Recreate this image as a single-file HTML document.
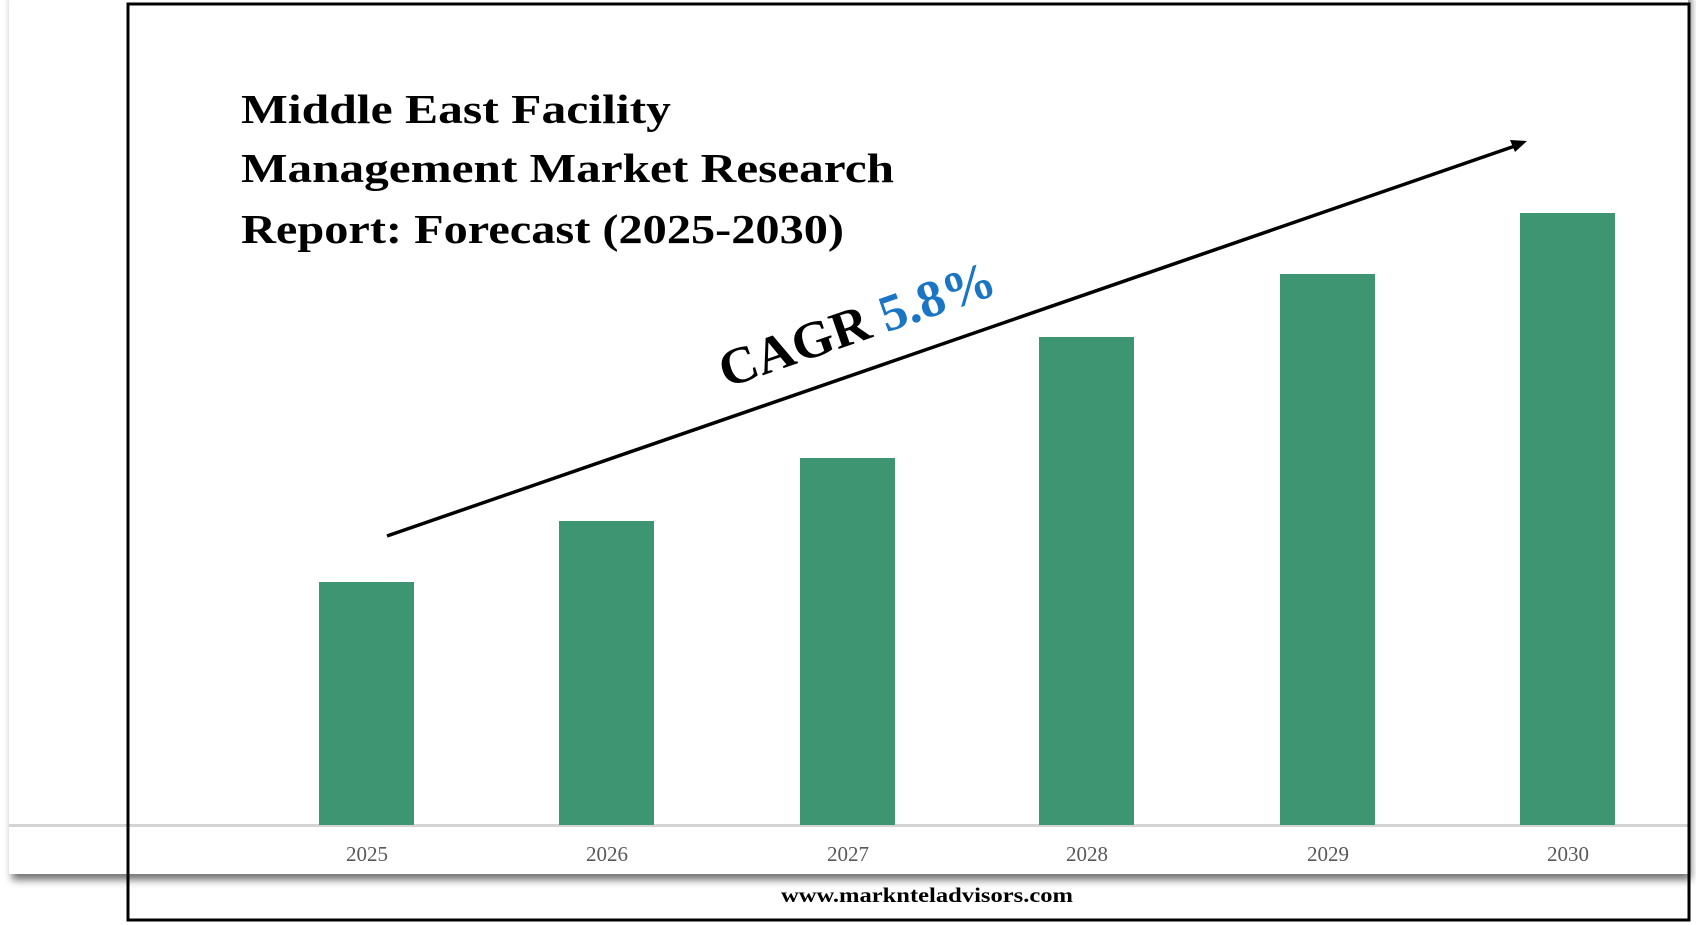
<!DOCTYPE html>
<html><head><style>
html,body{margin:0;padding:0;background:#fff;}
svg{display:block;}
</style></head><body>
<svg width="1696" height="925" viewBox="0 0 1696 925" xmlns="http://www.w3.org/2000/svg">
<defs>
<filter id="sh" x="-5%" y="-5%" width="110%" height="115%">
<feDropShadow dx="3" dy="6" stdDeviation="4" flood-color="#000" flood-opacity="0.55"/>
</filter>
</defs>
<rect x="0" y="0" width="1696" height="925" fill="#fff"/>
<rect x="9" y="-10" width="1679" height="884" fill="#fff" filter="url(#sh)"/>
<line x1="9" y1="825.5" x2="1688" y2="825.5" stroke="#d4d4d4" stroke-width="3"/>
<g fill="#3d9671">
<rect x="319" y="582" width="95" height="243"/>
<rect x="559" y="521" width="95" height="304"/>
<rect x="800" y="458" width="95" height="367"/>
<rect x="1039" y="337" width="95" height="488"/>
<rect x="1280" y="274" width="95" height="551"/>
<rect x="1520" y="213" width="95" height="612"/>
</g>
<g font-family="Liberation Serif, serif" font-size="21" fill="#595959" text-anchor="middle">
<text x="367" y="861">2025</text>
<text x="607" y="861">2026</text>
<text x="848" y="861">2027</text>
<text x="1087" y="861">2028</text>
<text x="1328" y="861">2029</text>
<text x="1568" y="861">2030</text>
</g>
<g font-family="Liberation Serif, serif" font-weight="bold" font-size="41" fill="#000">
<text x="241" y="123" textLength="430" lengthAdjust="spacingAndGlyphs">Middle East Facility</text>
<text x="241" y="182" textLength="653" lengthAdjust="spacingAndGlyphs">Management Market Research</text>
<text x="241" y="243" textLength="603" lengthAdjust="spacingAndGlyphs">Report: Forecast (2025-2030)</text>
</g>
<line x1="387" y1="536" x2="1515" y2="146" stroke="#000" stroke-width="3.5"/>
<polygon points="1527,141 1510,140 1515,152" fill="#000"/>
<g transform="translate(726,388) rotate(-19.1)">
<text x="0" y="0" font-family="Liberation Serif, serif" font-weight="bold" font-size="52" textLength="289" lengthAdjust="spacingAndGlyphs"><tspan fill="#000">CAGR </tspan><tspan fill="#1a75c4">5.8%</tspan></text>
</g>
<rect x="128" y="4" width="1561" height="916" fill="none" stroke="#000" stroke-width="3"/>
<text x="927" y="902" font-family="Liberation Serif, serif" font-weight="bold" font-size="21" fill="#000" text-anchor="middle" textLength="292" lengthAdjust="spacingAndGlyphs">www.marknteladvisors.com</text>
</svg>
</body></html>
